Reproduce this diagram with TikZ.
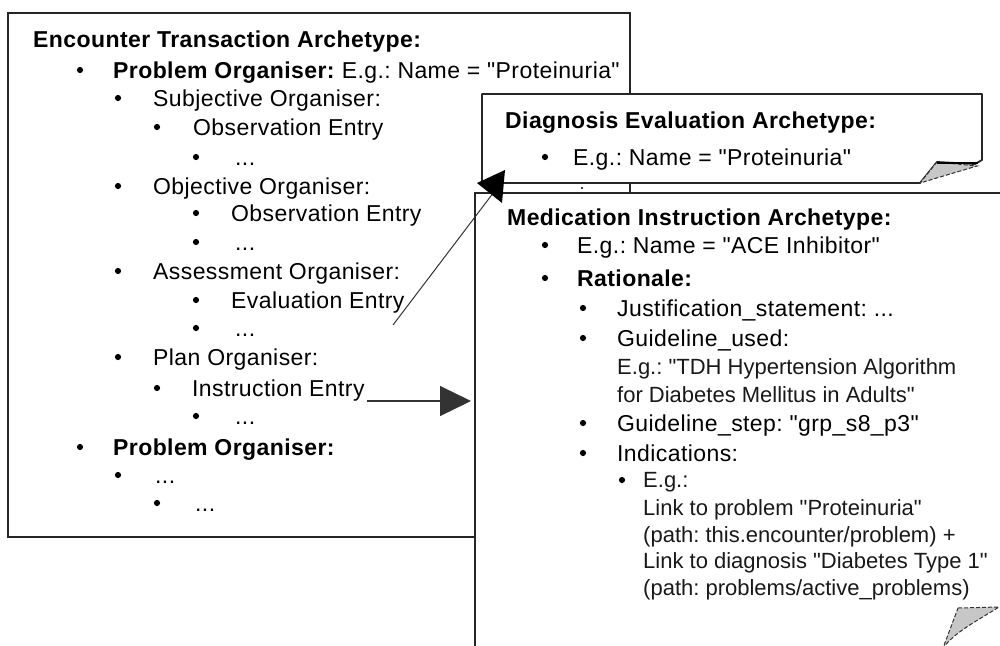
\documentclass[tikz,border=0pt]{standalone}
\usepackage{fontspec}
\setmainfont{Liberation Sans}[Ligatures=TeXOff]
\newfontfamily\wideface{Liberation Sans}[Ligatures=TeXOff, LetterSpace=1.8]
\usetikzlibrary{arrows.meta}
\frenchspacing

\tikzset{
  frame/.style={draw=black!85, line width=1.8pt, fill=white},
  txt/.style={anchor=base west, inner sep=0pt, font=\wideface\fontsize{23}{27}\selectfont, text=black},
  txtsm/.style={anchor=base west, inner sep=0pt, font=\fontsize{22}{26}\selectfont, text=black!90},
  hdr/.style={txt, font=\wideface\fontsize{23}{27}\selectfont\bfseries},
  link/.style={draw=black!80, line width=1.2pt},
  flap/.style={fill=black!22, draw=black!80, line width=1pt, dash pattern=on 4pt off 2pt},
}
% bulleted line: name, bullet x, text x, bullet y, text
\newcommand\li[5]{%
  \fill (#2,#4) circle (3.1);
  \node[txt] (#1) at (#3,#4+8) {#5};
}

\begin{document}
\begin{tikzpicture}[x=1pt,y=-1pt]
\useasboundingbox (0,0) rectangle (1000,645);
\clip (0,0) rectangle (1000,645);
\fill[white] (0,0) rectangle (1000,645);

% Encounter transaction archetype
\draw[frame] (8,13) rectangle (630,537);
\node[hdr] (enc) at (33,47) {Encounter Transaction Archetype:};
\li{po1}{80}{113}{70}{\textbf{Problem Organiser:} E.g.: Name = "Proteinuria"}
\li{subj}{118}{153}{98}{Subjective Organiser:}
\li{obs1}{157}{193}{127}{Observation Entry}
\li{sd1}{196}{235}{157}{...}
\li{obj}{118}{153}{186}{Objective Organiser:}
\li{obs2}{196}{231}{213}{Observation Entry}
\li{sd2}{196}{235}{242}{...}
\li{ass}{118}{153}{271}{Assessment Organiser:}
\li{eval}{196}{231}{300}{Evaluation Entry}
\li{sd3}{196}{235}{328}{...}
\li{plan}{118}{153}{357}{Plan Organiser:}
\li{instr}{157}{192}{388}{Instruction Entry}
\li{sd4}{196}{235}{416}{...}
\li{po2}{80}{113}{447}{\textbf{Problem Organiser:}}
\li{sd5}{118}{155}{475}{...}
\li{sd6}{157}{195}{503}{...}

% Diagnosis evaluation archetype (note with curled corner)
\draw[frame, line join=round] (482,94) -- (982,94) -- (982,160) -- (975,164)
  -- (937,162) -- (920,183) -- (482,183) -- cycle;
\filldraw[flap] (937,162) -- (920,183) -- (977,166) -- cycle;
\draw[black, line width=2.4pt] (937,163) -- (978,163);
\node[hdr] (diag) at (505,128) {Diagnosis Evaluation Archetype:};
\li{dname}{545}{573}{157}{E.g.: Name = "Proteinuria"}
\fill (582,188) circle (1.1);

% Medication instruction archetype
\draw[frame] (475,193) rectangle (1020,670);
\filldraw[flap] (958,608) -- (999,607) .. controls (975,622) and (955,632) .. (943,648) -- cycle;
\node[hdr] (med) at (507,225) {Medication Instruction Archetype:};
\li{mname}{545}{577}{245}{E.g.: Name = "ACE Inhibitor"}
\li{rat}{545}{577}{278}{\textbf{Rationale:}}
\li{just}{583}{617}{308}{Justification\_statement: ...}
\li{gused}{583}{617}{338}{Guideline\_used:}
\node[txtsm] (tdh1) at (617,374) {E.g.: "TDH Hypertension Algorithm};
\node[txtsm] (tdh2) at (617,402) {for Diabetes Mellitus in Adults"};
\li{gstep}{583}{617}{423}{Guideline\_step: "grp\_s8\_p3"}
\li{ind}{583}{617}{453}{Indications:}
\fill (622,480) circle (3.1);
\node[txtsm] (eg) at (643,487) {E.g.:};
\node[txtsm] (lk1) at (643,515) {Link to problem "Proteinuria"};
\node[txtsm] (pa1) at (643,542) {(path: this.encounter/problem) +};
\node[txtsm] (lk2) at (643,568) {Link to diagnosis "Diabetes Type 1"};
\node[txtsm] (pa2) at (643,595) {(path: problems/active\_problems)};

% links between the archetypes
\coordinate (evalTail) at (393,325);
\coordinate (diagHit) at (497,188);
\draw[link, line width=1pt] (evalTail) -- (diagHit);
\fill (477,183) -- (505,170) -- (502,203) -- cycle;

\coordinate (instrTail) at (367,401);
\coordinate (medHit) at (471,401);
\draw[link, -{Triangle[length=31pt,width=30pt]}] (instrTail) -- (medHit);
\end{tikzpicture}
\end{document}
